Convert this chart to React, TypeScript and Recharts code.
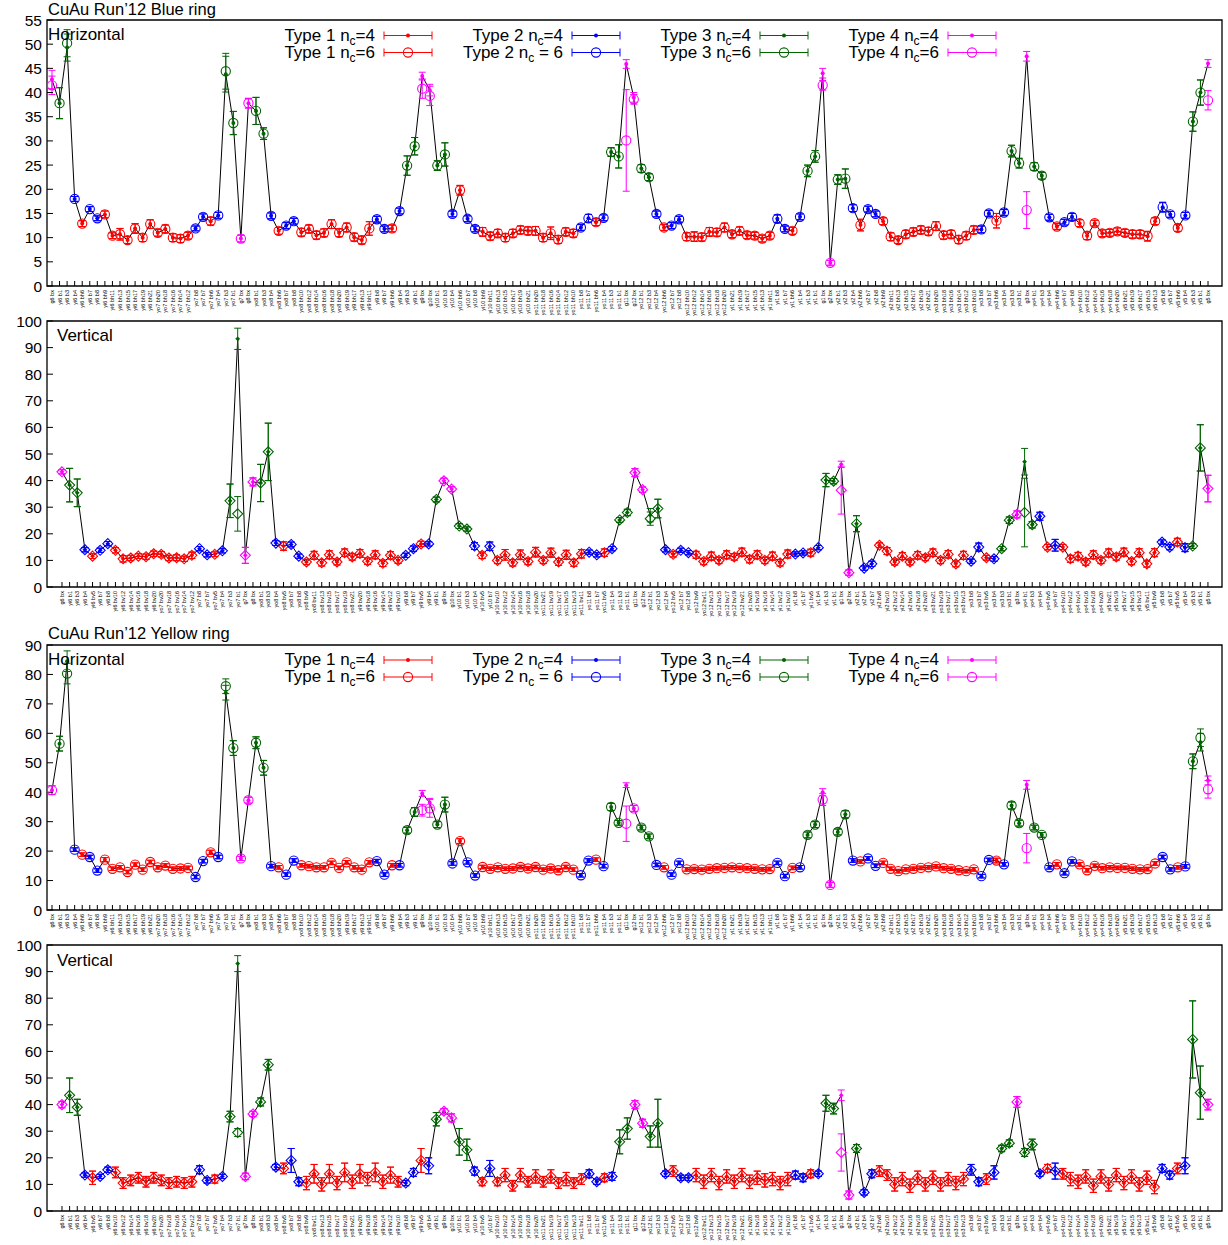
import React from 'react';
import { ComposedChart, Line, XAxis, YAxis, ErrorBar, ReferenceArea } from 'recharts';

const FONT = '"Liberation Sans", Arial, Helvetica, sans-serif';
const TYPE_COLORS = ['#ff0000', '#0000ff', '#006400', '#ff00ff'];

// BPM names along the ring (horizontal / vertical planes)
const hLabels = (
  'g6 bx|yi6 b1|yi6 b3|yi6 b4|yi6 bh6|yi6 b7|yi6 b8|yi6 bh9|yi6 bh11|yi6 bh13|yi6 bh15|yi6 bh17|yi6 bh19|yi6 bh21|yo7 bh20|yo7 bh18|yo7 bh16|yo7 bh14|yo7 bh12|yo7 b8|yo7 b7|yo7 bh6|yo7 b4|yo7 b3|yo7 b1|g7 bx|' +
  'g8 bx|yo8 b1|yo8 b3|yo8 b4|yo8 bh6|yo8 b7|yo8 b8|yo8 bh10|yo8 bh12|yo8 bh14|yo8 bh16|yo8 bh18|yo8 bh20|yi9 bh19|yi9 bh17|yi9 bh13|yi9 bh11|yi9 b8|yi9 b7|yi9 bh6|yi9 b4|yi9 b3|yi9 b1|g9 bx|' +
  'g10 bx|yi10 b1|yi10 b3|yi10 b4|yi10 bh6|yi10 b7|yi10 b8|yi10 bh9|yi10 bh11|yi10 bh13|yi10 bh15|yi10 bh17|yi10 bh19|yi10 bh21|yo11 bh20|yo11 bh18|yo11 bh16|yo11 bh14|yo11 bh12|yo11 bh10|yo11 b8|yo11 b7|yo11 bh6|yo11 b4|yo11 b3|yo11 b1|g11 bx|' +
  'g12 bx|yo12 b1|yo12 b3|yo12 b4|yo12 bh6|yo12 b7|yo12 b8|yo12 bh10|yo12 bh12|yo12 bh14|yo12 bh16|yo12 bh18|yo12 bh20|yi1 bh21|yi1 bh19|yi1 bh17|yi1 bh15|yi1 bh13|yi1 bh11|yi1 b8|yi1 b7|yi1 bh6|yi1 b4|yi1 b3|yi1 b1|g1 bx|' +
  'g2 bx|yi2 b1|yi2 b3|yi2 b4|yi2 bh6|yi2 b7|yi2 b8|yi2 bh9|yi2 bh11|yi2 bh13|yi2 bh15|yi2 bh17|yi2 bh19|yi2 bh21|yo3 bh20|yo3 bh18|yo3 bh16|yo3 bh14|yo3 bh12|yo3 bh10|yo3 b8|yo3 b7|yo3 bh6|yo3 b4|yo3 b3|yo3 b1|g3 bx|' +
  'yo4 b1|yo4 b3|yo4 b4|yo4 bh6|yo4 b7|yo4 b8|yo4 bh10|yo4 bh12|yo4 bh14|yo4 bh16|yo4 bh18|yo4 bh20|yi5 bh21|yi5 bh19|yi5 bh17|yi5 bh15|yi5 bh13|yi5 b8|yi5 b7|yi5 bh6|yi5 b4|yi5 b3|yi5 b1|g5 bx'
).split('|');

const vLabels = (
  'g6 bx|yi6 b1|yi6 b3|yi6 b4|yi6 bv5|yi6 b7|yi6 b8|yi6 bv10|yi6 bv12|yi6 bv14|yi6 bv16|yi6 bv18|yi6 bv20|yo7 bv20|yo7 bv18|yo7 bv16|yo7 bv14|yo7 bv12|yo7 b8|yo7 b7|yo7 bv5|yo7 b4|yo7 b3|yo7 b1|g7 bx|' +
  'g8 bx|yo8 b1|yo8 b3|yo8 b4|yo8 bv5|yo8 b7|yo8 b8|yo8 bv9|yo8 bv11|yo8 bv13|yo8 bv15|yo8 bv17|yo8 bv19|yo8 bv21|yi9 bv20|yi9 bv18|yi9 bv16|yi9 bv14|yi9 bv12|yi9 bv10|yi9 b8|yi9 b7|yi9 bv5|yi9 b4|yi9 b1|g9 bx|' +
  'g10 bx|yi10 b1|yi10 b3|yi10 b4|yi10 bv5|yi10 b7|yi10 bv10|yi10 bv12|yi10 bv14|yi10 bv16|yi10 bv18|yi10 bv20|yo11 bv21|yo11 bv19|yo11 bv17|yo11 bv15|yo11 bv13|yo11 bv11|yo11 b8|yo11 b7|yo11 bv5|yo11 b4|yo11 b3|yo11 b1|g11 bx|' +
  'g12 bx|yo12 b1|yo12 b3|yo12 b4|yo12 bv5|yo12 b7|yo12 b8|yo12 bv9|yo12 bv11|yo12 bv13|yo12 bv15|yo12 bv17|yo12 bv19|yo12 bv21|yi1 bv20|yi1 bv18|yi1 bv16|yi1 bv14|yi1 bv12|yi1 bv10|yi1 b8|yi1 b7|yi1 bv5|yi1 b4|yi1 b3|yi1 b1|g1 bx|' +
  'g2 bx|yi2 b1|yi2 b4|yi2 b7|yi2 bv8|yi2 bv10|yi2 bv12|yi2 bv14|yi2 bv16|yi2 bv18|yi2 bv20|yo3 bv21|yo3 bv19|yo3 bv17|yo3 bv15|yo3 bv13|yo3 b8|yo3 b7|yo3 bv5|yo3 b4|yo3 b3|yo3 b1|g3 bx|' +
  'yo4 b1|yo4 b3|yo4 b4|yo4 bv5|yo4 b7|yo4 bv10|yo4 bv12|yo4 bv14|yo4 bv16|yo4 bv18|yo4 bv20|yi5 bv21|yi5 bv19|yi5 bv17|yi5 bv15|yi5 bv13|yi5 bv11|yi5 bv9|yi5 b8|yi5 b7|yi5 bv5|yi5 b4|yi5 b3|yi5 b1|g5 bx'
).split('|');

// BPM type per position (1..4)
const hTypes = (
  '43321221111111111112212334' +
  '433212211111111112212334' +
  '433212211111111111112212334' +
  '43321221111111111112212334' +
  '433212211111111111112212334' +
  '332122111111111112212334'
).split('').map(Number);

const vTypes = (
  '4332122111111111112212334' +
  '43321221111111111111221234' +
  '4332121111111111112212334' +
  '433212211111111111112212334' +
  '43221111111111112212334' +
  '3321211111111111112212334'
).split('').map(Number);

// Blue ring, horizontal: n_c=4 values and errors
const blueH = [
  42.7, 37.8, 49.3, 18.0, 12.9, 15.9, 14.0, 14.8, 10.4, 10.7, 9.5, 11.9, 10.0, 12.8, 11.0, 11.8, 10.0, 9.8, 10.4, 11.9, 14.3, 13.4, 14.6, 43.8, 33.7, 9.8,
  37.8, 36.2, 31.5, 14.5, 11.4, 12.5, 13.4, 11.1, 11.8, 10.5, 11.0, 12.8, 11.0, 12.1, 10.1, 9.5, 11.9, 13.8, 11.8, 11.9, 15.5, 24.9, 28.9, 43.4,
  40.5, 24.9, 27.2, 14.9, 19.8, 13.9, 11.8, 11.2, 10.3, 10.9, 10.0, 10.9, 11.6, 11.4, 11.4, 10.0, 10.9, 9.6, 11.2, 10.9, 12.1, 14.0, 13.2, 14.1, 27.7, 26.8, 45.9,
  39.0, 24.3, 22.5, 14.9, 12.1, 12.5, 13.8, 10.2, 10.2, 10.1, 11.2, 11.1, 12.1, 10.7, 11.4, 10.5, 10.4, 9.8, 10.4, 13.9, 11.8, 11.4, 14.3, 23.8, 26.8, 44.0,
  4.8, 22.0, 22.2, 16.1, 12.6, 15.9, 14.9, 13.4, 10.2, 9.5, 10.7, 11.2, 11.6, 11.3, 12.4, 10.5, 10.7, 9.6, 10.4, 11.6, 11.7, 15.0, 13.5, 15.2, 27.9, 25.4, 47.5,
  24.7, 22.8, 14.2, 12.3, 13.2, 14.3, 13.0, 10.4, 13.0, 10.9, 11.0, 11.3, 11.0, 10.7, 10.7, 10.3, 13.4, 16.3, 14.8, 12.0, 14.6, 34.0, 40.0, 46.0,
];
const blueHErr = [
  1.9, 3.2, 2.8, 0.5, 0.6, 0.5, 0.5, 0.7, 0.6, 1.2, 0.7, 1.0, 0.8, 0.9, 0.7, 0.8, 0.8, 0.8, 0.7, 0.5, 0.6, 0.8, 0.6, 3.7, 2.4, 0.7,
  1.0, 2.8, 1.2, 0.6, 0.7, 0.6, 0.6, 0.8, 0.8, 0.8, 0.8, 0.9, 0.8, 0.9, 0.8, 0.8, 1.4, 0.6, 0.6, 0.7, 0.6, 2.0, 1.8, 0.8,
  1.2, 1.0, 2.4, 0.6, 1.0, 0.6, 0.6, 0.9, 0.8, 0.8, 0.8, 0.8, 0.8, 0.8, 0.9, 0.8, 1.3, 0.8, 0.8, 0.8, 0.6, 0.8, 0.7, 0.6, 0.9, 2.4, 0.9,
  1.0, 0.8, 0.7, 0.6, 0.6, 0.6, 0.6, 0.8, 1.0, 0.8, 0.9, 0.8, 0.9, 0.7, 0.8, 0.7, 0.7, 0.7, 0.7, 0.8, 0.6, 0.7, 0.6, 1.2, 1.2, 1.0,
  0.5, 1.0, 2.0, 0.7, 1.2, 0.6, 0.6, 0.7, 0.8, 0.7, 0.8, 0.8, 0.8, 0.8, 0.9, 0.8, 0.8, 0.8, 0.8, 0.8, 0.7, 0.6, 1.5, 0.6, 1.2, 1.0, 1.0,
  0.8, 0.7, 0.6, 0.6, 0.6, 0.7, 0.7, 0.8, 0.6, 0.7, 0.7, 0.7, 0.7, 0.8, 0.8, 1.0, 0.7, 1.0, 0.6, 0.7, 0.6, 2.0, 2.6, 0.8,
];
// n_c=6 points that differ from n_c=4: [position, value, error]
const blueHNc6 = [[1, 41.5, 1.9], [3, 50.2, 2.8], [24, 44.4, 3.7], [50, 40.8, 2.0], [51, 39.3, 2.0], [77, 30.1, 10.5], [78, 38.6, 1.0], [103, 41.5, 1.0], [130, 15.7, 3.8], [154, 38.4, 2.0]];

// Blue ring, vertical
const blueV = [
  43.3, 38.3, 35.4, 14.0, 11.6, 13.8, 16.3, 13.8, 10.6, 10.9, 11.6, 11.4, 12.5, 12.3, 10.9, 11.0, 10.6, 11.9, 14.4, 12.1, 12.3, 13.6, 32.4, 93.3, 11.9,
  39.5, 39.1, 50.8, 16.5, 15.4, 16.0, 11.6, 9.4, 11.9, 9.1, 12.1, 9.4, 12.9, 11.3, 12.6, 9.7, 12.1, 8.9, 11.9, 10.0, 11.9, 14.4, 16.2, 16.2, 32.9, 39.9,
  36.8, 22.9, 21.8, 15.4, 11.9, 15.3, 10.0, 12.1, 9.1, 12.1, 9.6, 13.1, 10.0, 12.9, 9.4, 12.1, 9.1, 12.5, 13.1, 12.1, 12.9, 14.4, 25.2, 28.0, 43.0,
  36.6, 27.0, 29.5, 14.0, 12.3, 13.8, 12.9, 12.1, 9.6, 11.6, 10.0, 12.1, 11.3, 13.1, 10.4, 12.1, 10.0, 11.6, 9.1, 12.4, 12.4, 12.8, 12.9, 14.8, 40.2, 39.8, 46.1,
  5.4, 23.8, 7.1, 8.7, 15.7, 13.5, 9.4, 11.6, 9.4, 11.9, 11.0, 12.9, 10.0, 12.3, 8.7, 11.9, 9.7, 15.0, 11.0, 10.6, 14.4, 25.1, 27.3,
  47.1, 23.4, 26.6, 15.0, 15.7, 15.0, 10.6, 11.6, 9.4, 12.1, 10.0, 12.8, 11.3, 13.1, 9.6, 12.9, 8.7, 12.9, 16.9, 15.0, 16.9, 14.8, 15.4, 52.3, 37.0,
];
const blueVErr = [
  0.8, 6.3, 5.2, 0.8, 0.9, 0.8, 0.8, 1.0, 1.2, 1.0, 0.9, 1.0, 1.0, 1.0, 1.0, 1.1, 1.0, 1.2, 0.8, 0.8, 0.9, 0.8, 6.3, 4.0, 3.0,
  1.5, 7.0, 10.8, 0.9, 1.6, 0.9, 0.8, 1.0, 1.5, 1.2, 1.5, 1.1, 1.4, 1.2, 1.5, 1.2, 1.5, 1.2, 1.4, 1.1, 0.8, 1.0, 1.0, 0.8, 0.9, 1.0,
  0.9, 0.9, 0.8, 1.3, 1.2, 1.6, 1.2, 2.0, 1.2, 1.8, 1.2, 1.8, 1.2, 1.7, 1.3, 1.7, 1.3, 1.6, 0.8, 0.8, 1.4, 0.8, 0.9, 1.2, 1.5,
  1.0, 2.5, 3.5, 0.8, 1.0, 0.8, 0.8, 1.3, 1.2, 1.5, 1.2, 1.5, 1.2, 1.5, 1.3, 1.5, 1.2, 1.5, 1.2, 1.5, 0.8, 0.8, 1.3, 0.8, 2.5, 1.0, 1.2,
  1.0, 3.0, 0.8, 1.0, 0.9, 1.3, 1.1, 1.3, 1.1, 1.4, 1.1, 1.4, 1.2, 1.4, 1.1, 1.5, 0.8, 1.5, 0.9, 0.9, 0.8, 1.2, 1.3,
  5.0, 1.2, 1.5, 1.0, 2.2, 1.0, 1.3, 1.4, 1.2, 1.5, 1.2, 1.5, 1.2, 1.5, 1.2, 1.5, 1.2, 1.5, 0.8, 1.0, 1.4, 1.5, 0.9, 8.7, 5.0,
];
const blueVNc6 = [[24, 27.5, 6.5], [78, 25.7, 2.5], [103, 36.4, 9.0], [127, 28.0, 12.9]];

// Yellow ring, horizontal
const yellowH = [
  40.7, 56.5, 84.5, 20.5, 18.8, 18.0, 13.4, 17.1, 14.0, 14.5, 12.9, 15.4, 13.7, 16.3, 14.5, 15.1, 14.0, 14.1, 14.3, 11.2, 16.6, 19.6, 18.0, 73.8, 55.0, 17.5,
  37.3, 56.8, 48.3, 14.9, 14.5, 12.0, 16.8, 15.2, 14.9, 14.5, 14.5, 16.0, 14.3, 16.2, 14.5, 13.7, 16.2, 16.6, 12.0, 15.2, 15.2, 27.1, 33.3, 39.6,
  36.4, 29.0, 35.8, 15.8, 23.4, 16.2, 11.7, 14.6, 14.0, 14.5, 14.0, 14.1, 14.6, 14.1, 14.6, 13.7, 14.1, 13.5, 14.6, 13.7, 11.8, 16.8, 17.1, 14.9, 35.0, 29.6, 42.4,
  34.5, 28.0, 25.0, 15.3, 14.5, 12.0, 16.0, 13.8, 13.9, 13.7, 14.0, 14.2, 14.3, 14.5, 14.3, 14.2, 14.0, 13.8, 13.9, 16.0, 11.5, 14.3, 14.5, 25.5, 29.0, 40.0,
  8.5, 26.5, 32.5, 16.8, 16.5, 17.5, 15.0, 16.0, 14.0, 13.2, 13.8, 14.0, 14.3, 14.5, 14.8, 14.2, 14.0, 13.5, 13.2, 13.8, 11.5, 17.0, 16.8, 15.5, 35.5, 29.5, 42.5,
  28.0, 25.5, 14.5, 15.5, 12.5, 16.5, 15.5, 13.5, 15.0, 14.2, 14.5, 14.3, 14.3, 14.0, 13.8, 13.9, 15.8, 18.0, 13.8, 14.5, 14.8, 50.5, 57.0, 44.0,
];
const yellowHErr = [
  1.5, 2.5, 3.5, 0.6, 0.6, 0.6, 0.6, 0.7, 0.6, 0.6, 0.6, 0.6, 0.6, 0.6, 0.6, 0.6, 0.6, 0.6, 0.6, 0.6, 0.6, 0.7, 0.6, 2.5, 2.5, 0.7,
  1.0, 2.0, 2.5, 0.6, 0.6, 0.6, 0.6, 0.6, 0.6, 0.6, 0.6, 0.6, 0.6, 0.6, 0.6, 0.6, 0.6, 0.6, 0.6, 0.6, 0.6, 1.0, 1.5, 1.0,
  1.5, 1.0, 2.5, 0.6, 0.8, 0.6, 0.6, 0.6, 0.6, 0.6, 0.6, 0.6, 0.6, 0.6, 0.6, 0.6, 0.6, 0.6, 0.6, 0.6, 0.6, 0.6, 0.6, 0.6, 1.2, 0.8, 0.8,
  1.0, 0.8, 0.8, 0.6, 0.6, 0.6, 0.6, 0.6, 0.6, 0.6, 0.6, 0.6, 0.6, 0.6, 0.6, 0.6, 0.6, 0.6, 0.6, 0.6, 0.6, 0.6, 0.6, 1.0, 1.0, 1.2,
  0.8, 1.0, 1.2, 0.6, 0.6, 0.6, 0.6, 0.6, 0.6, 0.6, 0.6, 0.6, 0.6, 0.6, 0.6, 0.6, 0.6, 0.6, 0.6, 0.6, 0.6, 0.6, 0.8, 0.6, 1.2, 1.0, 1.5,
  0.8, 0.8, 0.6, 0.6, 0.6, 0.6, 0.6, 0.6, 0.6, 0.6, 0.6, 0.6, 0.6, 0.6, 0.6, 0.6, 0.6, 0.6, 0.6, 0.6, 0.6, 2.5, 3.0, 1.5,
];
const yellowHNc6 = [[3, 80.3, 3.5], [24, 76.0, 2.5], [50, 33.9, 2.0], [51, 34.5, 3.0], [77, 29.3, 6.0], [103, 37.5, 2.0], [130, 21.0, 5.0], [153, 58.5, 3.0], [154, 41.0, 3.0]];

// Yellow ring, vertical
const yellowV = [
  40, 43.5, 39, 13.5, 12.5, 13, 15.5, 14.5, 10.5, 11.5, 12.5, 11, 12.5, 11.5, 10.5, 11, 10.5, 11, 15.5, 11.5, 12, 13, 35.5, 93, 13,
  36.5, 41, 55, 16.5, 16, 19, 11, 10.5, 14, 10, 14, 10.5, 14.5, 11, 14, 12, 14.5, 11, 13.5, 11, 10.5, 14.5, 19, 17, 34.5, 37.5,
  35, 26, 23, 15, 11, 16, 11, 13.5, 9.5, 13.5, 11, 13, 11, 13, 10.5, 12, 10.5, 12, 14, 11, 12.5, 13, 26, 31, 40,
  33, 28, 33, 14, 15, 12.5, 12.5, 13.5, 11, 13.5, 10.5, 13, 11, 13.5, 11, 12.5, 11.5, 12, 10.5, 12, 13.5, 12.5, 14, 14, 40.5, 38.5, 43.5,
  6, 23.5, 7, 14, 15, 13.5, 10, 12, 9.5, 12.5, 10, 12.5, 10, 12, 10.5, 12, 15.5, 11, 12, 14.5, 23.5, 25.5, 41,
  22, 25, 14, 16, 15, 14, 12, 11, 13, 9.5, 13, 10, 13.5, 10.5, 13, 10, 12.5, 9, 16, 13.5, 16, 17, 64.5, 44.5, 40,
];
const yellowVErr = [
  1.2, 6.5, 3.0, 0.8, 2.5, 0.8, 1.0, 2.0, 2.0, 2.0, 2.0, 2.0, 2.0, 2.0, 2.0, 2.0, 2.0, 2.0, 1.5, 1.0, 1.5, 0.8, 2.0, 3.0, 1.2,
  1.0, 1.5, 2.0, 1.0, 2.0, 4.5, 1.5, 2.5, 3.5, 2.5, 3.5, 2.5, 3.5, 2.5, 3.5, 2.5, 3.5, 2.5, 3.0, 2.0, 1.0, 1.5, 4.5, 3.0, 2.5, 1.0,
  1.5, 5.0, 4.0, 1.5, 1.5, 3.0, 1.5, 2.5, 2.0, 2.5, 2.0, 2.5, 2.0, 2.5, 2.0, 2.5, 2.0, 2.0, 1.5, 1.0, 1.5, 1.5, 4.5, 4.0, 1.5,
  1.5, 4.0, 9.0, 1.0, 2.0, 1.0, 1.0, 2.5, 2.5, 2.5, 2.5, 2.5, 2.5, 2.5, 2.5, 2.5, 2.5, 2.5, 2.5, 2.5, 1.5, 1.5, 1.5, 1.0, 3.0, 2.0, 2.0,
  1.5, 1.5, 1.0, 1.5, 2.0, 2.0, 2.5, 2.5, 2.5, 2.5, 2.5, 2.5, 2.5, 2.5, 2.5, 2.5, 2.0, 1.5, 2.0, 2.5, 1.2, 1.2, 2.0,
  1.5, 2.0, 1.0, 1.5, 3.0, 2.0, 2.5, 2.5, 2.5, 2.5, 2.5, 2.5, 2.5, 2.5, 2.5, 2.5, 2.5, 2.5, 1.5, 1.5, 2.0, 3.0, 14.5, 10.0, 2.0,
];
const yellowVNc6 = [[24, 29.5, 1.5], [103, 22.0, 7.0]];

type Row = { i: number; t: number; v4: number; e4: number; v6: number; e6: number };

function buildRows(types: number[], v4: number[], e4: number[], nc6: number[][]): Row[] {
  return v4.map((v, k) => {
    const o = nc6.find((d) => d[0] === k + 1);
    return { i: k, t: types[k], v4: v, e4: e4[k], v6: o ? o[1] : v, e6: o ? o[2] : e4[k] };
  });
}

type Shape = 'circle' | 'diamond';

const marker = (color: string, filled: boolean, shape: Shape) => (p: any) => {
  const { cx, cy, key } = p;
  if (cx == null || cy == null || p.value == null) return <g key={key} />;
  if (shape === 'circle') {
    return filled ? (
      <circle key={key} cx={cx} cy={cy} r={2} fill={color} />
    ) : (
      <circle key={key} cx={cx} cy={cy} r={4.6} fill="none" stroke={color} strokeWidth={1.1} />
    );
  }
  const s = filled ? 2.4 : 5;
  const pts = `${cx},${cy - s} ${cx + s},${cy} ${cx},${cy + s} ${cx - s},${cy}`;
  return filled ? (
    <polygon key={key} points={pts} fill={color} />
  ) : (
    <polygon key={key} points={pts} fill="none" stroke={color} strokeWidth={1.1} />
  );
};

const XTick = (props: any) => {
  const { x, y, payload, labels } = props;
  return (
    <text
      transform={`translate(${x + 2},${y}) rotate(-90)`}
      textAnchor="end"
      fontSize={5.5}
      fontFamily={FONT}
      fill="#000"
    >
      {labels[payload.value]}
    </text>
  );
};

interface PanelProps {
  rows: Row[];
  labels: string[];
  yMax: number;
  yStep: number;
  xDomain: [number, number];
  shape: Shape;
  top: number;
  xAxisHeight: number;
}

const Panel: React.FC<PanelProps> = ({ rows, labels, yMax, yStep, xDomain, shape, top, xAxisHeight }) => {
  const yTicks: number[] = [];
  for (let v = 0; v <= yMax; v += yStep) yTicks.push(v);
  const xTicks = rows.map((r) => r.i);

  return (
    <div style={{ position: 'absolute', left: 0, top }}>
      <ComposedChart width={1228} height={320} data={rows} margin={{ top: 20, right: 6, bottom: 0, left: 7 }}>
        <XAxis
          type="number"
          dataKey="i"
          domain={xDomain}
          ticks={xTicks}
          interval={0}
          allowDataOverflow
          axisLine={false}
          height={xAxisHeight}
          tickSize={-5}
          tickMargin={9}
          tickLine={{ stroke: '#000' }}
          tick={(p: any) => <XTick {...p} labels={labels} />}
        />
        <YAxis
          type="number"
          domain={[0, yMax]}
          ticks={yTicks}
          interval={0}
          allowDataOverflow
          axisLine={false}
          width={40}
          tickSize={-6}
          tickMargin={11}
          tickLine={{ stroke: '#000' }}
          tick={{ fill: '#000', fontSize: 15.5, fontFamily: FONT }}
        />
        <YAxis
          yAxisId="r"
          orientation="right"
          type="number"
          domain={[0, yMax]}
          ticks={yTicks}
          interval={0}
          allowDataOverflow
          axisLine={false}
          width={0}
          tickSize={-6}
          tickLine={{ stroke: '#000' }}
          tick={false}
        />
        <ReferenceArea x1={xDomain[0]} x2={xDomain[1]} y1={0} y2={yMax} fill="none" stroke="#000" strokeWidth={1.3} />
        <Line dataKey="v4" stroke="#000" strokeWidth={1} dot={false} activeDot={false} isAnimationActive={false} />
        {[1, 2, 3, 4].flatMap((t) => {
          const c = TYPE_COLORS[t - 1];
          return [
            <Line
              key={`o${t}`}
              dataKey={(d: Row) => (d.t === t ? d.v6 : null)}
              stroke="none"
              dot={marker(c, false, shape)}
              activeDot={false}
              isAnimationActive={false}
            >
              <ErrorBar dataKey={(d: Row) => (d.t === t ? d.e6 : null)} width={3.5} stroke={c} strokeWidth={1} />
            </Line>,
            <Line
              key={`f${t}`}
              dataKey={(d: Row) => (d.t === t ? d.v4 : null)}
              stroke="none"
              dot={marker(c, true, shape)}
              activeDot={false}
              isAnimationActive={false}
            >
              <ErrorBar dataKey={(d: Row) => (d.t === t ? d.e4 : null)} width={3.5} stroke={c} strokeWidth={1} />
            </Line>,
          ];
        })}
      </ComposedChart>
    </div>
  );
};

const legendSuffix4 = ['=4', '=4', '=4', '=4'];
const legendSuffix6 = ['=6', ' = 6', '=6', '=6'];

const LegendBlock: React.FC<{ y: number }> = ({ y }) => {
  const textEnds = [375, 563, 751, 939];
  const rows = [
    { dy: 0, suffix: legendSuffix4, filled: true },
    { dy: 17, suffix: legendSuffix6, filled: false },
  ];
  return (
    <g>
      {rows.map((r, ri) =>
        textEnds.map((te, k) => {
          const c = TYPE_COLORS[k];
          const x0 = te + 9;
          const x1 = x0 + 48;
          const cy = y + r.dy;
          const mid = (x0 + x1) / 2;
          return (
            <g key={`${ri}-${k}`}>
              <text x={te} y={cy + 5} textAnchor="end" fontSize={17} fontFamily={FONT} fill="#000">
                {`Type ${k + 1} n`}
                <tspan fontSize={12} dy={4}>c</tspan>
                <tspan dy={-4}>{r.suffix[k]}</tspan>
              </text>
              <line x1={x0} x2={x1} y1={cy} y2={cy} stroke={c} strokeWidth={1} />
              <line x1={x0} x2={x0} y1={cy - 4} y2={cy + 4} stroke={c} strokeWidth={1} />
              <line x1={x1} x2={x1} y1={cy - 4} y2={cy + 4} stroke={c} strokeWidth={1} />
              {r.filled ? (
                <circle cx={mid} cy={cy} r={2} fill={c} />
              ) : (
                <circle cx={mid} cy={cy} r={4.6} fill="none" stroke={c} strokeWidth={1.1} />
              )}
            </g>
          );
        })
      )}
    </g>
  );
};

export default function App() {
  const rowsBH = buildRows(hTypes, blueH, blueHErr, blueHNc6);
  const rowsBV = buildRows(vTypes, blueV, blueVErr, blueVNc6);
  const rowsYH = buildRows(hTypes, yellowH, yellowHErr, yellowHNc6);
  const rowsYV = buildRows(vTypes, yellowV, yellowVErr, yellowVNc6);
  const hDomain: [number, number] = [-0.66, 154.85];
  const vDomain: [number, number] = [-1.96, 151.84];

  return (
    <div style={{ position: 'absolute', left: 0, top: 0, width: 1228, height: 1245, background: '#fff', fontFamily: FONT }}>
      <Panel rows={rowsBH} labels={hLabels} yMax={55} yStep={5} xDomain={hDomain} shape="circle" top={0} xAxisHeight={34} />
      <Panel rows={rowsBV} labels={vLabels} yMax={100} yStep={10} xDomain={vDomain} shape="diamond" top={301} xAxisHeight={34} />
      <Panel rows={rowsYH} labels={hLabels} yMax={90} yStep={10} xDomain={hDomain} shape="circle" top={625} xAxisHeight={35} />
      <Panel rows={rowsYV} labels={vLabels} yMax={100} yStep={10} xDomain={vDomain} shape="diamond" top={925} xAxisHeight={34} />
      <svg width={1228} height={1245} style={{ position: 'absolute', left: 0, top: 0, pointerEvents: 'none' }}>
        <text x={48} y={15} fontSize={16.5} fontFamily={FONT} fill="#000">CuAu Run’12 Blue ring</text>
        <text x={48} y={40} fontSize={17} fontFamily={FONT} fill="#000">Horizontal</text>
        <text x={57} y={341} fontSize={17} fontFamily={FONT} fill="#000">Vertical</text>
        <text x={48} y={639} fontSize={16.5} fontFamily={FONT} fill="#000">CuAu Run’12 Yellow ring</text>
        <text x={48} y={665} fontSize={17} fontFamily={FONT} fill="#000">Horizontal</text>
        <text x={57} y={966} fontSize={17} fontFamily={FONT} fill="#000">Vertical</text>
        <LegendBlock y={35.5} />
        <LegendBlock y={660} />
      </svg>
    </div>
  );
}
